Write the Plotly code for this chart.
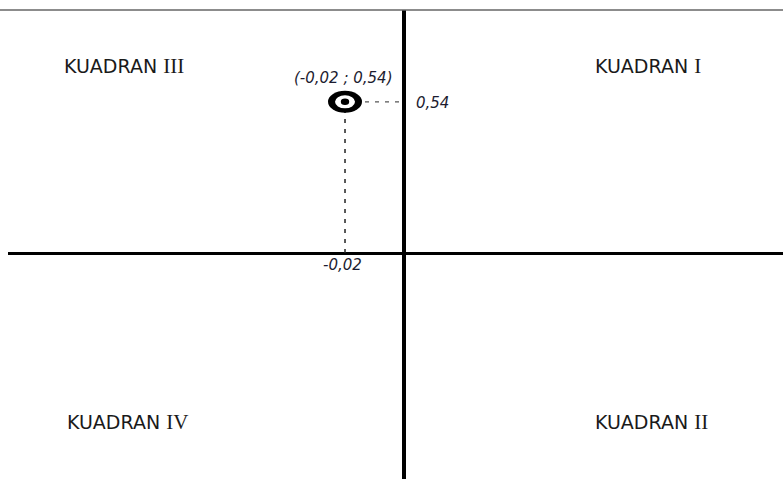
import plotly.graph_objects as go

# Data
point_x = [-0.02]
point_y = [0.54]
point_label = ["(-0,02 ; 0,54)"]
x_tick_label = "-0,02"
y_tick_label = "0,54"
quadrant_words = ["KUADRAN", "KUADRAN", "KUADRAN", "KUADRAN"]
quadrant_numerals = ["I", "II", "III", "IV"]
# paper positions of quadrant labels (left x, middle y)
quadrant_pos = [(0.7548, 0.8806), (0.7548, 0.1215), (0.0697, 0.8806), (0.0735, 0.1215)]

X_RANGE = [-0.13424, 0.12847]
Y_RANGE = [-0.8071, 0.8679]

fig = go.Figure()

px_, py_ = point_x[0], point_y[0]

# dashed guide lines (through the data point)
fig.add_trace(go.Scatter(x=[px_, px_], y=[0, py_], mode="lines",
                         line=dict(color="#222", width=1.5, dash="4px,6px"),
                         hoverinfo="skip", showlegend=False))
fig.add_trace(go.Scatter(x=[px_, 0], y=[py_, py_], mode="lines",
                         line=dict(color="#555", width=1.3, dash="4px,6px"),
                         hoverinfo="skip", showlegend=False))

shapes = []
# target-like marker made of three ellipses anchored at the data point
for (hw, hh, col) in [(17, 11, "black"), (10, 6.5, "white"), (4.2, 3.2, "black")]:
    shapes.append(dict(type="circle", xref="x", yref="y", xsizemode="pixel", ysizemode="pixel",
                       xanchor=px_, yanchor=py_, x0=-hw, x1=hw, y0=-hh, y1=hh,
                       fillcolor=col, line=dict(width=0), layer="above"))
# top border line
shapes.append(dict(type="line", xref="paper", yref="paper", x0=-0.0104, x1=1, y0=1, y1=1,
                   line=dict(color="#666", width=1.5)))

annotations = []
for word, num, (ax_, ay_) in zip(quadrant_words, quadrant_numerals, quadrant_pos):
    annotations.append(dict(text=word + " <span style='font-family:Liberation Serif;font-size:21px'>" + num + "</span>",
                            xref="paper", yref="paper", x=ax_, y=ay_,
                            showarrow=False, xanchor="left", yanchor="middle",
                            font=dict(family="DejaVu Sans", size=19, color="#1a1a1a")))
lab_font = dict(family="DejaVu Sans", size=15, color="#1c1c30", style="italic")
annotations.append(dict(text=point_label[0], x=px_, y=py_, xref="x", yref="y",
                        showarrow=False, yshift=24, xshift=-2, xanchor="center", yanchor="middle",
                        font=lab_font))
annotations.append(dict(text=y_tick_label, x=0, y=py_, xref="x", yref="y",
                        showarrow=False, xshift=10, yshift=-1, xanchor="left", yanchor="middle",
                        font=lab_font))
annotations.append(dict(text=x_tick_label, x=px_, y=0, xref="x", yref="y",
                        showarrow=False, yshift=-12, xshift=-3, xanchor="center", yanchor="middle",
                        font=lab_font))

fig.update_layout(
    width=783, height=479,
    margin=dict(l=8, r=0, t=10, b=0),
    paper_bgcolor="white", plot_bgcolor="white",
    showlegend=False,
    shapes=shapes, annotations=annotations,
    xaxis=dict(range=X_RANGE, showgrid=False, showticklabels=False, ticks="",
               zeroline=True, zerolinecolor="black", zerolinewidth=4, showline=False, fixedrange=True),
    yaxis=dict(range=Y_RANGE, showgrid=False, showticklabels=False, ticks="",
               zeroline=True, zerolinecolor="black", zerolinewidth=3, showline=False, fixedrange=True),
)

fig.write_html("out.html", config={"displayModeBar": False},
               post_script="document.body.style.margin='0';document.body.style.overflow='hidden';")
